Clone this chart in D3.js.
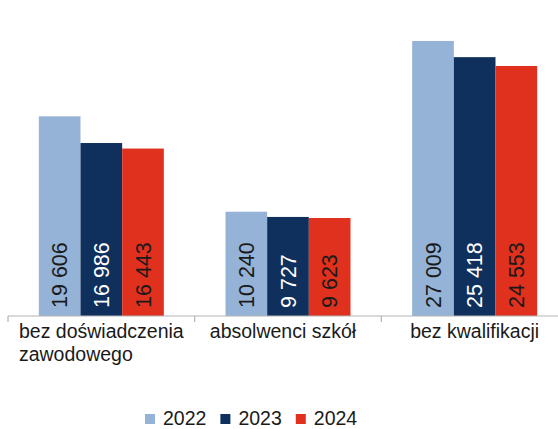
<!DOCTYPE html>
<html>
<head>
<meta charset="utf-8">
<script src="https://d3js.org/d3.v7.min.js"></script>
<style>
  body { margin: 0; background: #fff; }
  text { font-family: "Liberation Sans", Arial, sans-serif; }
</style>
</head>
<body>
<svg id="chart"></svg>
<script>
// data
var categories = [["bez doświadczenia", "zawodowego"], ["absolwenci szkół"], ["bez kwalifikacji"]]
var years = ["2022", "2023", "2024"]
var values2022 = [19606, 10240, 27009]
var values2023 = [16986, 9727, 25418]
var values2024 = [16443, 9623, 24553]
var seriesValues = [values2022, values2023, values2024]
var colors = ["#95b3d7", "#0f2f5c", "#e0301e"]
var labelColors = ["#1a1a1a", "#ffffff", "#1a1a1a"]

var width = 558, height = 429
var baseY = 316

var svg = d3.select("#chart").attr("width", width).attr("height", height)

var catIdx = categories.map(function (d, i) { return i })
var x0 = d3.scaleBand().domain(catIdx).range([8, 568]).paddingInner(0).paddingOuter(0)
var x1 = d3.scaleBand().domain(years).range([0, x0.bandwidth()]).paddingInner(0).paddingOuter(0.74)
var y = d3.scaleLinear().domain([0, 30000]).range([baseY, 10.5])

var fmt = d3.formatLocale({ decimal: ",", thousands: " ", grouping: [3], currency: ["", ""] }).format(",d")

// bars
var groups = svg.selectAll("g.grp")
  .data(catIdx)
  .enter().append("g")
  .attr("class", "grp")
  .attr("transform", function (i) { return "translate(" + x0(i) + ",0)" })

years.forEach(function (yr, s) {
  groups.append("rect")
    .attr("x", x1(yr))
    .attr("width", x1.bandwidth())
    .attr("y", function (i) { return y(seriesValues[s][i]) })
    .attr("height", function (i) { return baseY - y(seriesValues[s][i]) })
    .attr("fill", colors[s])

  groups.append("text")
    .attr("transform", function (i) {
      return "translate(" + (x1(yr) + x1.bandwidth() / 2) + "," + (baseY - 8) + ") rotate(-90)"
    })
    .attr("dy", "0.36em")
    .attr("font-size", 21.5)
    .attr("fill", labelColors[s])
    .text(function (i) { return fmt(seriesValues[s][i]) })
})

// axis line + ticks
var axis = svg.append("g").attr("stroke", "#b3b3b3").attr("stroke-width", 1.2)
axis.append("line").attr("x1", 8).attr("x2", width).attr("y1", baseY).attr("y2", baseY)
catIdx.forEach(function (i) {
  axis.append("line").attr("x1", x0(i)).attr("x2", x0(i)).attr("y1", baseY).attr("y2", baseY + 6)
})

// category labels (left aligned block, centred in band)
catIdx.forEach(function (i) {
  var g = svg.append("g")
  var t = g.selectAll("text").data(categories[i]).enter().append("text")
    .attr("font-size", 19.5)
    .attr("fill", "#1a1a1a")
    .attr("y", function (d, k) { return 338 + k * 23 })
    .text(function (d) { return d })
  var w = d3.max(t.nodes(), function (n) { return n.getComputedTextLength() })
  t.attr("x", x0(i) + x0.bandwidth() / 2 - w / 2 - (i === 1 ? 5 : 0))
})

// legend
var legend = svg.append("g")
var lx = 145
years.forEach(function (yr, s) {
  legend.append("rect").attr("x", lx).attr("y", 414).attr("width", 10).attr("height", 10).attr("fill", colors[s])
  var t = legend.append("text").attr("x", lx + 18).attr("y", 424.5).attr("font-size", 19.5).attr("fill", "#1a1a1a").text(yr)
  lx += 18 + t.node().getComputedTextLength() + 14
})
</script>
</body>
</html>
